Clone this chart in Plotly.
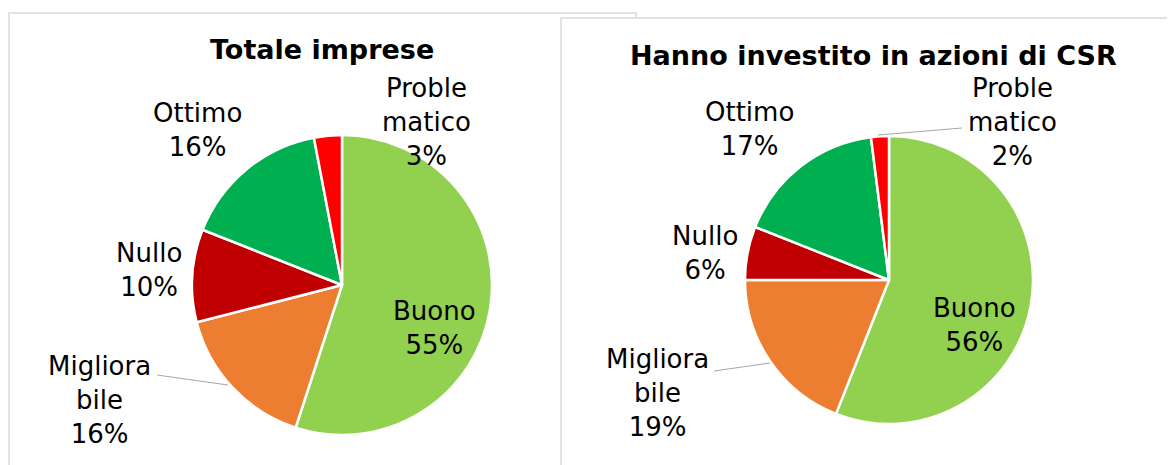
import plotly.graph_objects as go

# ---------------- data ----------------
categories = ["Buono", "Migliorabile", "Nullo", "Ottimo", "Problematico"]
label_text = ["Buono", "Migliora<br>bile", "Nullo", "Ottimo", "Proble<br>matico"]
values_totale = [55, 16, 10, 16, 3]
values_csr = [56, 19, 6, 17, 2]
titles = ["Totale imprese", "Hanno investito in azioni di CSR"]

# ---------------- styles / layout ----------------
colors = ["#92D050", "#ED7D31", "#C00000", "#00B050", "#FF0000"]
W, H = 1175, 465
OFF = 8  # page body margin offset
FONT = "DejaVu Sans"
FS = 26
FS_TITLE = 27

def px(x):
    return (x - OFF) / W

def py(y):
    return 1 - (y - OFF) / H

# pie geometry (pixel centre and radius)
pie_geom = [(342, 285, 150), (889, 280, 144)]
# label centres (pixels) per chart, same order as categories
label_pos = [
    [(434, 328), (100, 399.5), (149, 270), (197, 130), (426, 121.5)],
    [(974, 324.5), (657, 393), (705, 253), (749.5, 129.5), (1012, 122.5)],
]
title_pos = [(321.5, 49.5), (873.5, 55)]
leaders = [
    [(157, 375, 228, 385)],
    [(714, 371, 770, 363), (878, 135, 962, 128)],
]

fig = go.Figure()
for (cx, cy, r), vals in zip(pie_geom, [values_totale, values_csr]):
    fig.add_trace(go.Pie(
        labels=categories,
        values=vals,
        sort=False,
        direction="clockwise",
        rotation=0,
        marker=dict(colors=colors, line=dict(color="white", width=2.5)),
        textinfo="none",
        hoverinfo="label+percent",
        showlegend=False,
        domain=dict(x=[px(cx - r), px(cx + r)], y=[py(cy + r), py(cy - r)]),
    ))

shapes = [
    dict(type="rect", xref="paper", yref="paper",
         x0=px(9), x1=px(636), y0=py(500), y1=py(13),
         line=dict(color="#D9D9D9", width=1.5), fillcolor="white", layer="below"),
    dict(type="rect", xref="paper", yref="paper",
         x0=px(561), x1=px(1200), y0=py(500), y1=py(18),
         line=dict(color="#D9D9D9", width=1.5), fillcolor="white", layer="below"),
]
for chart in leaders:
    for x0, y0, x1, y1 in chart:
        shapes.append(dict(type="line", xref="paper", yref="paper",
                           x0=px(x0), y0=py(y0), x1=px(x1), y1=py(y1),
                           line=dict(color="#A6A6A6", width=1)))

annotations = []
for (tx, ty), t in zip(title_pos, titles):
    annotations.append(dict(text=f"<b>{t}</b>", x=px(tx), y=py(ty), xref="paper", yref="paper",
                            xanchor="center", yanchor="middle", showarrow=False,
                            font=dict(family=FONT, size=FS_TITLE, color="black")))
for positions, vals in zip(label_pos, [values_totale, values_csr]):
    total = sum(vals)
    for (lx, ly), lab, v in zip(positions, label_text, vals):
        pct = round(100 * v / total)
        annotations.append(dict(text=f"{lab}<br>{pct}%", x=px(lx), y=py(ly),
                                xref="paper", yref="paper", xanchor="center", yanchor="middle",
                                showarrow=False, align="center",
                                font=dict(family=FONT, size=FS, color="black")))

fig.update_layout(
    width=W, height=H,
    margin=dict(l=0, r=0, t=0, b=0),
    paper_bgcolor="white", plot_bgcolor="white",
    shapes=shapes, annotations=annotations,
)
fig.write_html("out.html")
